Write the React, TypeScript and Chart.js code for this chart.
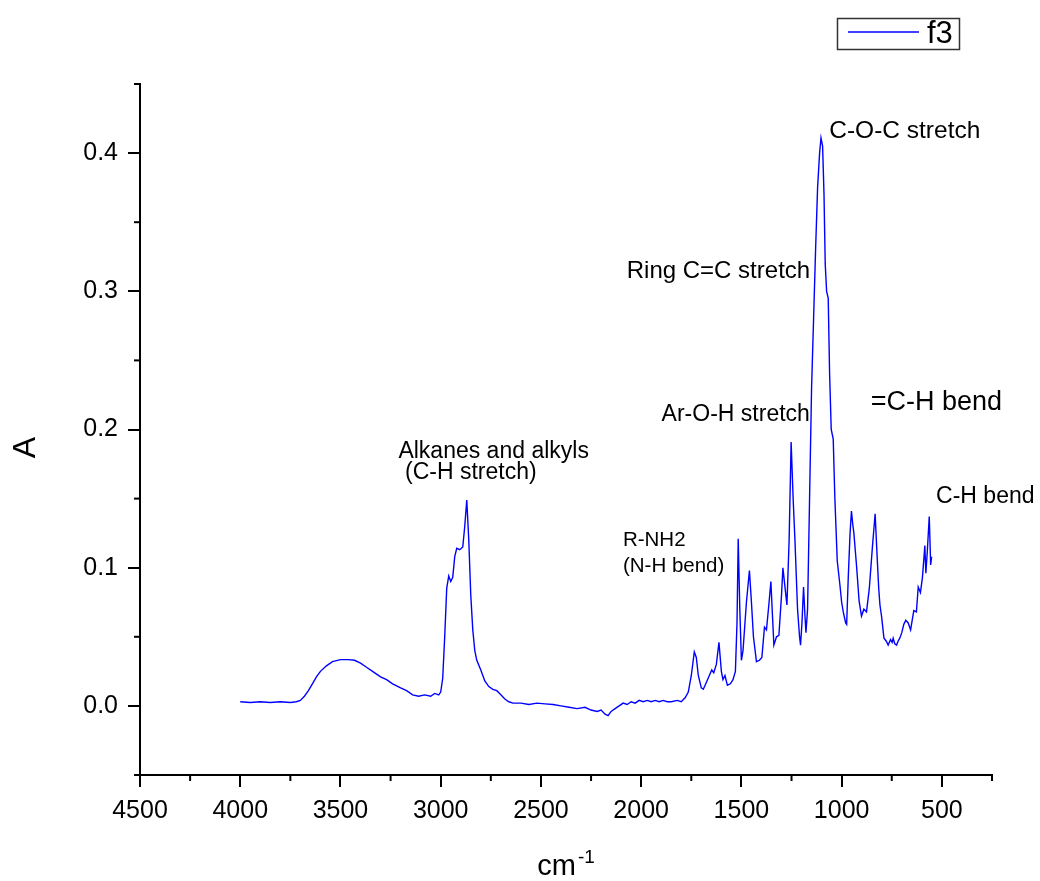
import React, { useEffect, useRef } from 'react';
import { Chart, registerables } from 'chart.js';

Chart.register(...registerables);

const FONT = '"Liberation Sans", Arial, Helvetica, sans-serif';

// Wavenumber (cm-1) of each sampled point of the spectrum
const WAVENUMBERS = [
  4000, 3950, 3900, 3850, 3800, 3750, 3720, 3700, 3680, 3660, 3640, 3620, 3600, 3570, 3540, 3500,
  3460, 3430, 3400, 3370, 3340, 3300, 3270, 3240, 3200, 3170, 3140, 3110, 3080, 3050, 3030, 3010,
  3000, 2990, 2980, 2970, 2960, 2950, 2940, 2930, 2920, 2905, 2890, 2880, 2870, 2860, 2850, 2840,
  2830, 2820, 2800, 2780, 2760, 2740, 2720, 2700, 2680, 2660, 2640, 2600, 2560, 2520, 2480, 2440,
  2400, 2360, 2320, 2280, 2250, 2220, 2200, 2180, 2165, 2150, 2130, 2110, 2090, 2070, 2050, 2030,
  2010, 1990, 1970, 1950, 1930, 1910, 1890, 1870, 1850, 1820, 1800, 1780, 1765, 1750, 1735, 1725,
  1715, 1700, 1690, 1675, 1660, 1648, 1638, 1625, 1612, 1600, 1592, 1582, 1570, 1555, 1542, 1530,
  1522, 1516, 1508, 1500, 1492, 1475, 1460, 1450, 1440, 1425, 1410, 1398, 1385, 1375, 1362, 1353,
  1345, 1338, 1325, 1313, 1300, 1293, 1282, 1273, 1262, 1252, 1242, 1233, 1220, 1210, 1205, 1198,
  1190, 1183, 1178, 1170, 1160, 1150, 1140, 1130, 1120, 1110, 1103, 1095, 1088, 1082, 1075, 1067,
  1060, 1052, 1042, 1034, 1022, 1009, 1000, 992, 980, 975, 967, 958, 951, 945, 939, 926,
  913, 901, 889, 876, 862, 846, 833, 823, 815, 809, 801, 789, 778, 768, 756, 748,
  743, 735, 726, 718, 710, 700, 690, 680, 668, 656, 648, 640, 627, 618, 607, 597,
  585, 580, 573, 563, 556, 551,
];

// Absorbance for each wavenumber above
const ABSORBANCE = [
  0.003, 0.0025, 0.003, 0.0025, 0.003, 0.0025, 0.003, 0.004, 0.007, 0.011, 0.016, 0.021, 0.025, 0.029, 0.032, 0.0335,
  0.0335, 0.033, 0.031, 0.028, 0.025, 0.021, 0.019, 0.016, 0.013, 0.011, 0.008, 0.007, 0.008, 0.007, 0.009, 0.008,
  0.010, 0.02, 0.05, 0.085, 0.094, 0.09, 0.093, 0.108, 0.114, 0.113, 0.115, 0.13, 0.149, 0.12, 0.08, 0.055,
  0.04, 0.033, 0.026, 0.018, 0.014, 0.012, 0.011, 0.008, 0.005, 0.003, 0.002, 0.002, 0.001, 0.002, 0.0015, 0.001,
  0.0, -0.001, -0.002, -0.001, -0.003, -0.004, -0.003, -0.006, -0.007, -0.004, -0.002, 0.0, 0.002, 0.001, 0.003, 0.002,
  0.004, 0.003, 0.004, 0.003, 0.004, 0.003, 0.004, 0.003, 0.003, 0.004, 0.003, 0.006, 0.010, 0.022, 0.039, 0.035,
  0.022, 0.013, 0.012, 0.017, 0.022, 0.026, 0.024, 0.030, 0.046, 0.025, 0.019, 0.022, 0.015, 0.016, 0.019, 0.025,
  0.06, 0.121, 0.07, 0.033, 0.040, 0.075, 0.098, 0.075, 0.05, 0.032, 0.033, 0.035, 0.057, 0.055, 0.075, 0.090,
  0.065, 0.044, 0.050, 0.051, 0.08, 0.100, 0.085, 0.073, 0.12, 0.191, 0.15, 0.12, 0.07, 0.05, 0.044, 0.06,
  0.086, 0.065, 0.053, 0.07, 0.15, 0.23, 0.28, 0.33, 0.375, 0.40, 0.411, 0.405, 0.37, 0.32, 0.30, 0.295,
  0.24, 0.20, 0.193, 0.151, 0.105, 0.088, 0.075, 0.068, 0.060, 0.059, 0.093, 0.125, 0.141, 0.132, 0.125, 0.102,
  0.076, 0.065, 0.070, 0.068, 0.085, 0.116, 0.139, 0.108, 0.085, 0.073, 0.065, 0.049, 0.047, 0.044, 0.048, 0.046,
  0.049, 0.045, 0.044, 0.047, 0.049, 0.053, 0.059, 0.062, 0.060, 0.055, 0.062, 0.069, 0.068, 0.086, 0.082, 0.093,
  0.116, 0.096, 0.111, 0.137, 0.102, 0.108,
];

const SERIES_LABEL = 'f3';
const X_TICKS = [4500, 4000, 3500, 3000, 2500, 2000, 1500, 1000, 500];
const X_MINOR = [4250, 3750, 3250, 2750, 2250, 1750, 1250, 750, 250];
const Y_TICKS = [0, 0.1, 0.2, 0.3, 0.4];
const Y_MINOR = [-0.05, 0.05, 0.15, 0.25, 0.35, 0.45];
const X_TITLE = 'cm';
const X_TITLE_SUP = '-1';
const Y_TITLE = 'A';

// Peak labels, anchored in data coordinates (wavenumber, absorbance)
const ANNOTATION_TEXT = [
  'Alkanes and alkyls', '(C-H stretch)', 'R-NH2', '(N-H bend)', 'Ar-O-H stretch',
  'Ring C=C stretch', 'C-O-C stretch', '=C-H bend', 'C-H bend',
];
const ANNOTATION_WN = [3211, 3178, 2091, 2091, 1898, 2072, 1062, 855, 529];
const ANNOTATION_A = [0.1796, 0.1642, 0.1157, 0.0969, 0.2064, 0.3094, 0.4107, 0.2141, 0.1468];
const ANNOTATION_SIZE = [23, 23, 20.5, 20.5, 23, 24, 24.5, 27, 23];

const decor = {
  id: 'decor',
  afterDraw(chart: any) {
    const { ctx, chartArea } = chart;
    const xs = chart.scales.x;
    const ys = chart.scales.y;
    ctx.save();
    ctx.strokeStyle = '#000';
    ctx.lineWidth = 2;
    X_MINOR.forEach((v) => {
      const px = xs.getPixelForValue(v);
      ctx.beginPath();
      ctx.moveTo(px, chartArea.bottom);
      ctx.lineTo(px, chartArea.bottom + 6);
      ctx.stroke();
    });
    Y_MINOR.forEach((v) => {
      const py = ys.getPixelForValue(v);
      ctx.beginPath();
      ctx.moveTo(chartArea.left - 6, py);
      ctx.lineTo(chartArea.left, py);
      ctx.stroke();
    });

    ctx.fillStyle = '#000';
    ctx.textAlign = 'left';
    ctx.textBaseline = 'alphabetic';
    ANNOTATION_TEXT.forEach((t, i) => {
      ctx.font = `${ANNOTATION_SIZE[i]}px ${FONT}`;
      ctx.fillText(t, xs.getPixelForValue(ANNOTATION_WN[i]), ys.getPixelForValue(ANNOTATION_A[i]));
    });

    // x axis title with superscript
    ctx.font = `29px ${FONT}`;
    const w1 = ctx.measureText(X_TITLE).width;
    ctx.font = `19px ${FONT}`;
    const w2 = ctx.measureText(X_TITLE_SUP).width;
    const cx = (chartArea.left + chartArea.right) / 2;
    const start = cx - (w1 + 2 + w2) / 2;
    ctx.font = `29px ${FONT}`;
    ctx.fillText(X_TITLE, start, chartArea.bottom + 100);
    ctx.font = `19px ${FONT}`;
    ctx.fillText(X_TITLE_SUP, start + w1 + 2, chartArea.bottom + 88);

    // y axis title
    ctx.save();
    ctx.translate(chartArea.left - 105, (chartArea.top + chartArea.bottom) / 2 + 18);
    ctx.rotate(-Math.PI / 2);
    ctx.font = `32px ${FONT}`;
    ctx.textAlign = 'center';
    ctx.fillText(Y_TITLE, 0, 0);
    ctx.restore();

    // legend
    const ds = chart.data.datasets[0];
    ctx.lineWidth = 1.5;
    ctx.strokeStyle = '#333';
    ctx.strokeRect(837.5, 18.5, 122, 31);
    ctx.strokeStyle = ds.borderColor;
    ctx.lineWidth = 1.3;
    ctx.beginPath();
    ctx.moveTo(848, 32);
    ctx.lineTo(919, 32);
    ctx.stroke();
    ctx.font = `31px ${FONT}`;
    ctx.fillStyle = '#000';
    ctx.fillText(ds.label, 927, 43);
    ctx.restore();
  },
};

export default function App() {
  const ref = useRef<HTMLCanvasElement>(null);
  useEffect(() => {
    const canvas = ref.current;
    if (!canvas) return;
    const chart = new Chart(canvas, {
      type: 'line',
      data: {
        datasets: [
          {
            label: SERIES_LABEL,
            data: WAVENUMBERS.map((w, i) => ({ x: w, y: ABSORBANCE[i] })),
            borderColor: '#0000ff',
            borderWidth: 1.4,
            pointRadius: 0,
            tension: 0,
            fill: false,
          },
        ],
      },
      options: {
        animation: false,
        responsive: false,
        devicePixelRatio: 1,
        layout: { padding: { top: 84, right: 48, left: 0, bottom: 0 } },
        plugins: { legend: { display: false }, tooltip: { enabled: false } },
        scales: {
          x: {
            type: 'linear',
            reverse: true,
            min: 250,
            max: 4500,
            afterBuildTicks: (s: any) => {
              s.ticks = X_TICKS.map((v) => ({ value: v }));
            },
            afterFit: (s: any) => {
              s.height = 106;
            },
            ticks: {
              autoSkip: false,
              maxRotation: 0,
              padding: 9,
              color: '#000',
              font: { size: 25, family: FONT },
              callback: (v: any) => String(v),
            },
            grid: { drawOnChartArea: false, drawTicks: true, tickLength: 12, color: '#000', lineWidth: 2 },
            border: { display: true, color: '#000', width: 2 },
          },
          y: {
            type: 'linear',
            min: -0.05,
            max: 0.45,
            afterBuildTicks: (s: any) => {
              s.ticks = Y_TICKS.map((v) => ({ value: v }));
            },
            afterFit: (s: any) => {
              s.width = 140;
            },
            ticks: {
              padding: 10,
              color: '#000',
              font: { size: 25, family: FONT },
              callback: (v: any) => Number(v).toFixed(1),
            },
            grid: { drawOnChartArea: false, drawTicks: true, tickLength: 12, color: '#000', lineWidth: 2 },
            border: { display: true, color: '#000', width: 2 },
          },
        },
      },
      plugins: [decor],
    });
    return () => chart.destroy();
  }, []);
  return (
    <div style={{ position: 'absolute', left: 0, top: 0, width: 1040, height: 881, background: '#fff' }}>
      <canvas ref={ref} width={1040} height={881} style={{ display: 'block', width: 1040, height: 881 }} />
    </div>
  );
}
